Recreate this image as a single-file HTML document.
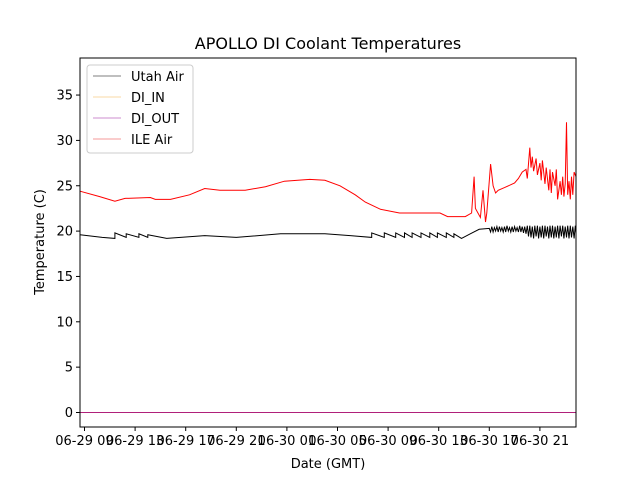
<!DOCTYPE html>
<html><head><meta charset="utf-8"><style>
body{margin:0;background:#fff}
svg text{font-family:"DejaVu Sans","Liberation Sans",sans-serif;fill:#000}
</style></head><body>
<svg id="chart" width="640" height="480" xmlns="http://www.w3.org/2000/svg">
<rect width="640" height="480" fill="#fff"/>
<text x="328" y="49" font-size="16" text-anchor="middle">APOLLO DI Coolant Temperatures</text>
<g id="plot"></g>
<rect x="80" y="58" width="496" height="369" fill="none" stroke="#000" stroke-width="1"/>
<text x="328" y="468" font-size="13" text-anchor="middle">Date (GMT)</text>
<text transform="translate(44,242) rotate(-90)" font-size="13" text-anchor="middle">Temperature (C)</text>
<g>
<rect x="87" y="65" width="106" height="88" rx="3" fill="#fff" stroke="#ccc"/>
<g><line x1="93" y1="76" x2="121" y2="76" stroke="#000" stroke-width="0.6"/><text x="131" y="81" font-size="13">Utah Air</text></g>
<g><line x1="93" y1="97" x2="121" y2="97" stroke="#f2b64a" stroke-width="0.6"/><text x="131" y="102" font-size="13">DI_IN</text></g>
<g><line x1="93" y1="118" x2="121" y2="118" stroke="#9b1fa0" stroke-width="0.6"/><text x="131" y="123" font-size="13">DI_OUT</text></g>
<g><line x1="93" y1="139" x2="121" y2="139" stroke="#e33" stroke-width="0.6"/><text x="131" y="144" font-size="13">ILE Air</text></g>
</g>
</svg>
<script>
const xTickLabels=["06-29 09","06-29 13","06-29 17","06-29 21","06-30 01","06-30 05","06-30 09","06-30 13","06-30 17","06-30 21"];
const xTickHours=[0,4,8,12,16,20,24,28,32,36];
const yTicks=[0,5,10,15,20,25,30,35];
const ileHours=[-0.36,1.2,2.4,3.2,5.2,5.6,6.8,8.3,9.5,10.7,12.7,14.3,15.8,17.8,19.0,20.2,21.4,22.2,23.4,24.9,28.1,28.7,30.1,30.6,30.8,30.9,31.3,31.5,31.7,31.8,32.1,32.3,32.5,32.7,33.2,34.0,34.3,34.6,34.9,35.0,35.2,35.3,35.4,35.5,35.7,35.8,36.0,36.1,36.2,36.4,36.5,36.7,36.8,36.9,37.0,37.2,37.3,37.4,37.6,37.7,37.8,37.9,38.0,38.1,38.2,38.3,38.4,38.5,38.6,38.7,38.9];
const ileValues=[24.4,23.8,23.3,23.6,23.7,23.5,23.5,24.0,24.7,24.5,24.5,24.9,25.5,25.7,25.6,25.0,24.0,23.2,22.4,22.0,22.0,21.6,21.6,22.0,26.0,22.5,21.5,24.5,21.0,22.0,27.4,25.0,24.2,24.5,24.8,25.3,25.8,26.5,26.8,25.8,29.2,27.0,28.2,26.6,28.0,26.2,27.5,25.6,27.8,25.2,27.0,24.5,26.8,24.2,26.5,25.0,26.8,23.5,25.5,24.0,26.0,23.8,25.2,32.0,24.0,25.5,23.5,26.0,24.0,26.5,26.0];
const utahHours=[-0.36,1.4,2.4,2.4,3.3,3.3,4.3,4.3,5.0,5.0,6.5,9.5,12.0,15.5,19.0,21.0,22.7,22.7,23.7,23.7,24.6,24.6,25.3,25.3,25.9,25.9,26.6,26.6,27.3,27.3,27.9,27.9,28.6,28.6,29.2,29.2,29.8,30.5,31.2,
32.0,32.1,32.2,32.3,32.4,32.5,32.6,32.7,32.8,32.9,33.0,33.1,33.2,33.3,33.4,33.5,33.6,33.7,33.8,33.9,34.0,34.1,34.2,34.3,34.4,34.5,34.6,34.7,34.8,34.9,
35.0,35.1,35.2,35.3,35.4,35.5,35.6,35.7,35.8,35.9,36.0,36.1,36.2,36.3,36.4,36.5,36.6,36.7,36.8,36.9,37.0,37.1,37.2,37.3,37.4,37.5,37.6,37.7,37.8,37.9,38.0,38.1,38.2,38.3,38.4,38.5,38.6,38.7,38.8,38.9];
const utahValues=[19.6,19.3,19.2,19.8,19.3,19.7,19.3,19.7,19.3,19.6,19.2,19.5,19.3,19.7,19.7,19.5,19.3,19.8,19.3,19.8,19.3,19.8,19.3,19.8,19.3,19.8,19.3,19.8,19.3,19.8,19.3,19.8,19.3,19.8,19.3,19.7,19.2,19.7,20.2,
20.3,19.9,20.5,19.9,20.4,20.0,20.5,19.9,20.5,20.0,20.4,19.9,20.5,19.9,20.6,20.0,20.4,19.9,20.5,19.9,20.5,20.0,20.4,19.9,20.6,19.9,20.5,19.8,20.5,19.7,
20.6,19.4,20.6,19.3,20.5,19.2,20.6,19.4,20.6,19.2,20.5,19.3,20.6,19.2,20.6,19.4,20.5,19.2,20.6,19.3,20.6,19.2,20.5,19.3,20.6,19.2,20.6,19.4,20.6,19.2,20.5,19.3,20.6,19.2,20.6,19.3,20.5,19.2,20.6,19.8];
const zeroHours=[-0.36,38.9];
const zeroValues=[0,0];
const X0=80,X1=576,Y0=58,Y1=427;
function xs(h){return 84.5+h*12.65;}
function ys(v){return 412.5-v*9.07;}
const ns="http://www.w3.org/2000/svg";
const g=document.getElementById('plot');
function mk(t,a){const e=document.createElementNS(ns,t);for(const k in a)e.setAttribute(k,a[k]);g.appendChild(e);return e;}
yTicks.forEach(v=>{
  const l=mk('line',{x1:X0-4,x2:X0,y1:ys(v),y2:ys(v),stroke:'#000'});
  
  
  const t=mk('text',{x:X0-7,y:ys(v)+4.5,'font-size':13,'text-anchor':'end'});
  t.textContent=v;
  
  
});
xTickHours.forEach((h,i)=>{
  const l=mk('line',{x1:xs(h),x2:xs(h),y1:Y1,y2:Y1+4,stroke:'#000'});
  
  
  const t=mk('text',{x:xs(h),y:Y1+18,'font-size':13,'text-anchor':'middle'});
  t.textContent=xTickLabels[i];
  
  
});
function line(hs,vs,color,name){
  const d=hs.map((h,i)=>(i?'L':'M')+Math.min(X1,Math.max(X0,xs(h))).toFixed(1)+' '+ys(vs[i]).toFixed(1)).join(' ');
  const p=mk('path',{d:d,fill:'none',stroke:color,'stroke-width':1});
  
  
}
line(utahHours,utahValues,'#000','utah-air-line');
line(zeroHours,zeroValues,'#f2b64a','di-in-line');
line(zeroHours,zeroValues,'#b0207a','di-out-line');
line(ileHours,ileValues,'#ff0000','ile-air-line');
</script>
</body></html>
